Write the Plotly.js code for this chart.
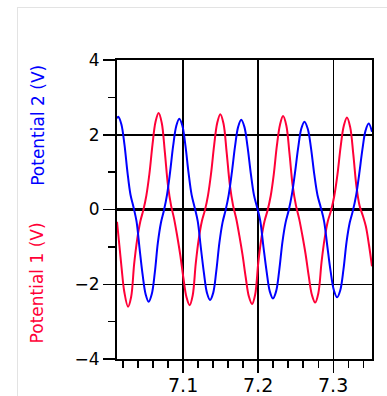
<!DOCTYPE html>
<html>
<head>
<meta charset="utf-8">
<script src="https://cdn.plot.ly/plotly-3.0.1.min.js"></script>
<style>
html, body { margin: 0; padding: 0; background: #fff; overflow: hidden; }
#frame { position: absolute; left: 17px; top: 7px; width: 420px; height: 420px; border: 1px solid #e3e3e3; }
#chart { position: absolute; left: 0; top: 0; width: 387px; height: 396px; }
</style>
</head>
<body>
<div id="frame"></div>
<div id="chart"></div>
<script>
// Time (s) and potentials (V)
const time1 = [
  7.0122, 7.0153, 7.0184, 7.0219,
  7.0269, 7.0310, 7.0350, 7.0391, 7.0432, 7.0473, 7.0513, 7.0554, 7.0595, 7.0635,
  7.0676, 7.0717, 7.0758, 7.0800, 7.0841, 7.0882, 7.0923, 7.0964, 7.1006, 7.1047,
  7.1088, 7.1129, 7.1170, 7.1211, 7.1252, 7.1293, 7.1333, 7.1374, 7.1415, 7.1456,
  7.1497, 7.1539, 7.1581, 7.1624, 7.1666, 7.1708, 7.1750, 7.1792, 7.1835, 7.1877,
  7.1919, 7.1960, 7.2002, 7.2043, 7.2084, 7.2126, 7.2167, 7.2208, 7.2249, 7.2291,
  7.2332, 7.2375, 7.2417, 7.2460, 7.2503, 7.2546, 7.2588, 7.2631, 7.2674, 7.2716,
  7.2759, 7.2801, 7.2844, 7.2886, 7.2928, 7.2971, 7.3013, 7.3055, 7.3097, 7.3140,
  7.3182, 7.3224, 7.3266, 7.3308, 7.3350, 7.3392, 7.3433, 7.3475, 7.3515
];
const potential1 = [
  -0.33, -0.95, -1.58, -2.20,
  -2.60, -2.34, -1.46, -0.79, -0.32, -0.01, 0.38, 0.97, 1.75, 2.35,
  2.58, 2.32, 1.55, 0.65, 0.11, -0.25, -0.71, -1.22, -1.84, -2.35,
  -2.56, -2.30, -1.44, -0.77, -0.31, -0.01, 0.38, 0.97, 1.73, 2.32,
  2.55, 2.30, 1.53, 0.65, 0.11, -0.24, -0.70, -1.21, -1.82, -2.33,
  -2.53, -2.28, -1.42, -0.77, -0.32, -0.02, 0.36, 0.94, 1.70, 2.27,
  2.50, 2.25, 1.50, 0.63, 0.11, -0.25, -0.69, -1.19, -1.79, -2.29,
  -2.49, -2.24, -1.40, -0.76, -0.31, -0.02, 0.36, 0.93, 1.67, 2.24,
  2.46, 2.21, 1.48, 0.62, 0.10, -0.16, -0.45, -0.95, -1.52
];
const time2 = [
  7.0122,
  7.0140, 7.0180, 7.0221, 7.0261, 7.0301, 7.0342, 7.0382, 7.0422, 7.0462, 7.0503,
  7.0543, 7.0584, 7.0625, 7.0665, 7.0706, 7.0747, 7.0788, 7.0829, 7.0869, 7.0910,
  7.0951, 7.0992, 7.1033, 7.1074, 7.1115, 7.1156, 7.1196, 7.1237, 7.1278, 7.1319,
  7.1360, 7.1402, 7.1443, 7.1485, 7.1526, 7.1568, 7.1609, 7.1651, 7.1692, 7.1734,
  7.1775, 7.1817, 7.1859, 7.1902, 7.1944, 7.1986, 7.2028, 7.2070, 7.2113, 7.2155,
  7.2197, 7.2239, 7.2281, 7.2323, 7.2365, 7.2407, 7.2448, 7.2490, 7.2532, 7.2574,
  7.2616, 7.2660, 7.2703, 7.2747, 7.2790, 7.2834, 7.2877, 7.2921, 7.2964, 7.3008,
  7.3051, 7.3093, 7.3135, 7.3177, 7.3219, 7.3261, 7.3303, 7.3345, 7.3387, 7.3429,
  7.3471, 7.3515
];
const potential2 = [
  2.44,
  2.48, 2.28, 1.74, 1.00, 0.40, 0.06, -0.32, -1.04, -1.73, -2.27,
  -2.47, -2.27, -1.69, -0.90, -0.36, -0.02, 0.40, 1.01, 1.70, 2.23,
  2.43, 2.24, 1.70, 0.98, 0.39, 0.05, -0.31, -1.01, -1.69, -2.23,
  -2.42, -2.23, -1.65, -0.88, -0.35, -0.01, 0.40, 1.00, 1.68, 2.21,
  2.40, 2.21, 1.68, 0.97, 0.39, 0.06, -0.30, -0.99, -1.66, -2.19,
  -2.38, -2.19, -1.62, -0.87, -0.35, -0.02, 0.39, 0.98, 1.64, 2.16,
  2.35, 2.16, 1.65, 0.94, 0.38, 0.05, -0.31, -0.99, -1.65, -2.16,
  -2.35, -2.16, -1.61, -0.86, -0.35, -0.03, 0.37, 0.95, 1.60, 2.11,
  2.30, 2.08
];
const seriesNames = ['Potential 1 (V)', 'Potential 2 (V)'];
const xTickVals = [7.1, 7.2, 7.3];
const xTickLabels = ['7.1', '7.2', '7.3'];
const xRange = [7.0122, 7.3515];
const yRange = [-4, 4];

const RED = '#ff0037';
const BLUE = '#0000ff';
const FONT = 'DejaVu Sans, Verdana, sans-serif';

const traces = [
  { x: time1, y: potential1, name: seriesNames[0], mode: 'lines',
    line: { color: RED, width: 2, shape: 'spline', smoothing: 1 } },
  { x: time2, y: potential2, name: seriesNames[1], mode: 'lines',
    line: { color: BLUE, width: 2, shape: 'spline', smoothing: 1 } }
];

const tickAnnotations = xTickVals.map((v, i) => ({
  text: xTickLabels[i], xref: 'x', yref: 'paper', x: v, y: 0,
  yshift: -13, xanchor: 'center', yanchor: 'top', showarrow: false,
  font: { family: FONT, size: 19, color: '#000' }
}));

const layout = {
  width: 387, height: 396,
  margin: { l: 117, r: 15, t: 60, b: 37 },
  paper_bgcolor: 'rgba(0,0,0,0)',
  plot_bgcolor: '#ffffff',
  showlegend: false,
  font: { family: FONT, size: 17, color: '#000' },
  xaxis: {
    range: xRange, tickmode: 'array', tickvals: xTickVals, showticklabels: false,
    ticks: 'outside', ticklen: 12, tickwidth: 1.5, tickcolor: '#000',
    showline: true, linewidth: 2, linecolor: '#000', mirror: true,
    showgrid: true, gridcolor: '#000', gridwidth: 1.5,
    zeroline: false,
    minor: { tick0: 7.0, dtick: 0.02, ticks: 'outside', ticklen: 7, tickwidth: 1.5, tickcolor: '#000', showgrid: false }
  },
  yaxis: {
    range: yRange, tick0: 0, dtick: 2,
    ticks: 'outside', ticklen: 12, tickwidth: 1.5, tickcolor: '#000',
    showline: true, linewidth: 2, linecolor: '#000', mirror: true,
    showgrid: true, gridcolor: '#000', gridwidth: 1.5,
    zeroline: true, zerolinecolor: '#000', zerolinewidth: 3.5,
    tickfont: { family: FONT, size: 17, color: '#000' },
    minor: { tick0: 0, dtick: 1, ticks: 'outside', ticklen: 7, tickwidth: 1.5, tickcolor: '#000', showgrid: false }
  },
  annotations: [
    { text: seriesNames[1], xref: 'paper', yref: 'paper', x: -0.31, y: 0.783,
      textangle: -90, showarrow: false, xanchor: 'center', yanchor: 'middle',
      font: { family: FONT, size: 17, color: BLUE } },
    { text: seriesNames[0], xref: 'paper', yref: 'paper', x: -0.31, y: 0.256,
      textangle: -90, showarrow: false, xanchor: 'center', yanchor: 'middle',
      font: { family: FONT, size: 17, color: RED } }
  ].concat(tickAnnotations)
};

Plotly.newPlot('chart', traces, layout, { displayModeBar: false, staticPlot: true });
</script>
</body>
</html>
